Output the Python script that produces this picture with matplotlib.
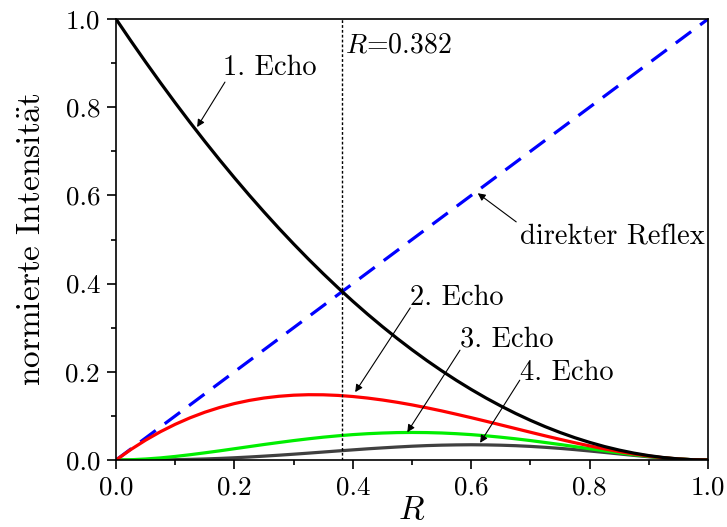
import numpy as np
import matplotlib
matplotlib.use('Agg')
import matplotlib.pyplot as plt

plt.rcParams['font.family'] = 'serif'
plt.rcParams['font.serif'] = ['cmr10']
plt.rcParams['mathtext.fontset'] = 'cm'
plt.rcParams['axes.formatter.use_mathtext'] = True

# Reflectivity R sampled in steps of 0.025
R = [0.000, 0.025, 0.050, 0.075, 0.100, 0.125, 0.150, 0.175, 0.200, 0.225,
     0.250, 0.275, 0.300, 0.325, 0.350, 0.375, 0.400, 0.425, 0.450, 0.475,
     0.500, 0.525, 0.550, 0.575, 0.600, 0.625, 0.650, 0.675, 0.700, 0.725,
     0.750, 0.775, 0.800, 0.825, 0.850, 0.875, 0.900, 0.925, 0.950, 0.975, 1.000]

# normalised intensities
direct = [0.000, 0.025, 0.050, 0.075, 0.100, 0.125, 0.150, 0.175, 0.200, 0.225,
          0.250, 0.275, 0.300, 0.325, 0.350, 0.375, 0.400, 0.425, 0.450, 0.475,
          0.500, 0.525, 0.550, 0.575, 0.600, 0.625, 0.650, 0.675, 0.700, 0.725,
          0.750, 0.775, 0.800, 0.825, 0.850, 0.875, 0.900, 0.925, 0.950, 0.975, 1.000]
echo1 = [1.0000, 0.9506, 0.9025, 0.8556, 0.8100, 0.7656, 0.7225, 0.6806, 0.6400, 0.6006,
         0.5625, 0.5256, 0.4900, 0.4556, 0.4225, 0.3906, 0.3600, 0.3306, 0.3025, 0.2756,
         0.2500, 0.2256, 0.2025, 0.1806, 0.1600, 0.1406, 0.1225, 0.1056, 0.0900, 0.0756,
         0.0625, 0.0506, 0.0400, 0.0306, 0.0225, 0.0156, 0.0100, 0.0056, 0.0025, 0.0006, 0.0]
echo2 = [0.0, 0.0238, 0.0451, 0.0642, 0.0810, 0.0957, 0.1084, 0.1191, 0.1280, 0.1351,
         0.1406, 0.1445, 0.1470, 0.1481, 0.1479, 0.1465, 0.1440, 0.1405, 0.1361, 0.1309,
         0.1250, 0.1184, 0.1114, 0.1038, 0.0960, 0.0879, 0.0796, 0.0713, 0.0630, 0.0548,
         0.0469, 0.0392, 0.0320, 0.0253, 0.0191, 0.0137, 0.0090, 0.0052, 0.0024, 0.0006, 0.0]
echo3 = [0.0, 0.0006, 0.0023, 0.0048, 0.0081, 0.0120, 0.0163, 0.0208, 0.0256, 0.0304,
         0.0352, 0.0397, 0.0441, 0.0481, 0.0518, 0.0549, 0.0576, 0.0597, 0.0612, 0.0622,
         0.0625, 0.0622, 0.0613, 0.0597, 0.0576, 0.0549, 0.0517, 0.0481, 0.0441, 0.0397,
         0.0352, 0.0304, 0.0256, 0.0209, 0.0162, 0.0120, 0.0081, 0.0048, 0.0023, 0.0006, 0.0]
echo4 = [0.0, 0.0000, 0.0001, 0.0004, 0.0008, 0.0015, 0.0024, 0.0036, 0.0051, 0.0068,
         0.0088, 0.0109, 0.0132, 0.0156, 0.0181, 0.0206, 0.0230, 0.0254, 0.0275, 0.0295,
         0.0313, 0.0327, 0.0337, 0.0343, 0.0346, 0.0343, 0.0336, 0.0325, 0.0309, 0.0288,
         0.0264, 0.0236, 0.0205, 0.0172, 0.0138, 0.0105, 0.0073, 0.0044, 0.0022, 0.0006, 0.0]

R_mark = 0.382

fig = plt.figure(figsize=(7.27, 5.27), dpi=100)
ax = fig.add_axes([0.1596, 0.1271, 0.8143, 0.8368])

ax.plot(R, direct, color='#0000ff', lw=2.3, dashes=(6, 3.5))
ax.plot(R, echo4, color='#404040', lw=2.3)
ax.plot(R, echo3, color='#00ee00', lw=2.3)
ax.plot(R, echo2, color='#ff0000', lw=2.3)
ax.plot(R, echo1, color='black', lw=2.3)
ax.axvline(R_mark, color='black', lw=1.0, ls=(0, (2, 1.5)))

ax.set_xlim(0, 1)
ax.set_ylim(0, 1)
ax.set_xticks(np.arange(0, 1.01, 0.2))
ax.set_yticks(np.arange(0, 1.01, 0.2))
ax.set_xticks(np.arange(0.1, 1.0, 0.2), minor=True)
ax.set_yticks(np.arange(0.1, 1.0, 0.2), minor=True)
ax.xaxis.set_major_formatter(matplotlib.ticker.FormatStrFormatter('%.1f'))
ax.yaxis.set_major_formatter(matplotlib.ticker.FormatStrFormatter('%.1f'))
ax.tick_params(which='major', direction='out', length=6.5, width=1.2, labelsize=19.5,
               top=False, right=False, pad=5)
ax.tick_params(which='minor', direction='out', length=3.5, width=1.2, top=False, right=False)
for s in ax.spines.values():
    s.set_linewidth(1.2)

ax.set_xlabel('$R$', fontsize=24, labelpad=-3)
ax.set_ylabel(r'normierte Intensit$\ddot{\mathrm{a}}$t', fontsize=24, labelpad=14)

ax.text(0.387, 0.941, r'$R$=0.382', fontsize=20, va='center', ha='left')

labels = [('1. Echo', (0.181, 0.889), (0.184, 0.857), (0.137, 0.755)),
          ('direkter Reflex', (0.682, 0.506), (0.676, 0.540), (0.611, 0.605)),
          ('2. Echo', (0.497, 0.367), (0.497, 0.345), (0.404, 0.154)),
          ('3. Echo', (0.581, 0.274), (0.581, 0.249), (0.492, 0.063)),
          ('4. Echo', (0.682, 0.197), (0.682, 0.181), (0.615, 0.039))]
for txt, pos, tail, tip in labels:
    ax.text(pos[0], pos[1], txt, fontsize=20.5, va='center', ha='left')
    ax.annotate('', xy=tip, xytext=tail,
                arrowprops=dict(arrowstyle='-|>', color='black', lw=0.8,
                                mutation_scale=11, shrinkA=0, shrinkB=0))

fig.savefig('out.png', dpi=100)
